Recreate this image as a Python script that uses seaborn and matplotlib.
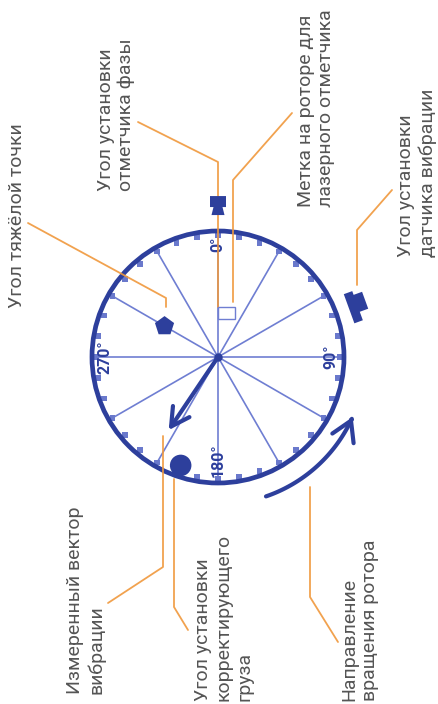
import numpy as np
import pandas as pd
import seaborn as sns
import matplotlib.pyplot as plt
from matplotlib.patches import Circle, Polygon, Rectangle, FancyArrowPatch
from matplotlib.path import Path

# angles are degrees clockwise from the top, radii in units of the disc radius
spoke_angles = [0, 30, 60, 90, 120, 150, 180, 210, 240, 270, 300, 330]
tick_angles = list(range(0, 360, 10))
deg_angles = [0, 90, 180, 270]
deg_labels = ["0°", "90°", "180°", "270°"]

heavy_angle, heavy_r = 300, 0.49
vector_angle, vector_r = 214, 0.70
weight_angle, weight_r = 199, 0.91
phase_angle, phase_r = 0, 1.19
vib_angle, vib_r = 70, 1.18
mark_r = 0.35
rot_start, rot_end, rot_r = 161, 114, 1.17

labels = [
    "Угол тяжёлой точки",
    "Угол установки\nотметчика фазы",
    "Метка на роторе для\nлазерного отметчика",
    "Угол установки\nдатчика вибрации",
    "Измеренный вектор\nвибрации",
    "Угол установки\nкорректирующего\nгруза",
    "Направление\nвращения ротора",
]

NAVY = "#2d3f9c"
SPOKE = "#6f7ed2"
TICK = "#6a79cc"
ORANGE = "#f0983c"
TEXT = "#555555"

CX, CY, R = 218, 357, 126


def polar(a, r):
    a = np.radians(a)
    return CX + r * R * np.sin(a), CY - r * R * np.cos(a)


def shape_at(a, r, pts):
    # pts given as (tangential, radial) pixel offsets
    bx, by = polar(a, r)
    t = np.radians(a)
    ux, uy = np.sin(t), -np.cos(t)
    vx, vy = np.cos(t), np.sin(t)
    return [(bx + v * vx + u * ux, by + v * vy + u * uy) for v, u in pts]


sns.set_style("white")
plt.rcParams["font.family"] = ["Roboto", "DejaVu Sans"]

fig = plt.figure(figsize=(4.38, 7.04), dpi=100)
ax = fig.add_axes([0, 0, 1, 1])
ax.set_xlim(0, 438)
ax.set_ylim(704, 0)
ax.axis("off")

# spokes
rows = []
for i, a in enumerate(spoke_angles):
    x0, y0 = polar(a, 0)
    x1, y1 = polar(a, 1)
    rows += [(i, x0, y0), (i, x1, y1)]
spokes = pd.DataFrame(rows, columns=["spoke", "x", "y"])
sns.lineplot(data=spokes, x="x", y="y", units="spoke", estimator=None, sort=False,
             color=SPOKE, lw=1.2, ax=ax, zorder=2)

# rim ticks
tx, ty = polar(np.array(tick_angles), 0.965)
sns.scatterplot(x=tx, y=ty, marker="s", s=16, color=TICK, edgecolor="none", ax=ax, zorder=3)

ax.add_patch(Circle((CX, CY), R, fill=False, ec=NAVY, lw=3.4, zorder=4))
ax.plot([CX], [CY], "o", ms=5, color=NAVY, zorder=5)

# degree labels
for a, lab in zip(deg_angles, deg_labels):
    x, y = polar(a, 0.955)
    ha = {0: "center", 90: "right", 180: "center", 270: "left"}[a]
    va = {0: "top", 90: "center", 180: "bottom", 270: "center"}[a]
    ax.text(x, y, lab, rotation=90, ha=ha, va=va, fontsize=11.5, fontweight="bold",
            color=NAVY, zorder=6)

# leaders
leaders = [
    [(28, 223), (166, 298), (166, 307)],
    [(138, 122), (218, 162), (218, 307)],
    [(292, 113), (233, 180), (233, 302)],
    [(392, 190), (357, 230), (357, 285)],
    [(163, 436), (163, 567), (108, 603)],
    [(174, 479), (174, 607), (188, 630)],
    [(310, 487), (310, 597), (338, 642)],
]
for seg in leaders:
    xs, ys = zip(*seg)
    ax.plot(xs, ys, color=ORANGE, lw=1.3, alpha=0.9, zorder=7)

# laser mark on rotor
mx, my = polar(0, mark_r)
ax.add_patch(Rectangle((mx, my - 6), 17, 12, fc="white", ec=SPOKE, lw=1.0, zorder=8))

# heavy point and correction weight
hx, hy = polar(heavy_angle, heavy_r)
sns.scatterplot(x=[hx], y=[hy], marker="p", s=210, color=NAVY, edgecolor="none", ax=ax, zorder=8)
wx, wy = polar(weight_angle, weight_r)
sns.scatterplot(x=[wx], y=[wy], marker="o", s=240, color=NAVY, edgecolor="none", ax=ax, zorder=8)

# measured vibration vector
ax.add_patch(FancyArrowPatch((CX, CY), polar(vector_angle, vector_r),
                             arrowstyle="->,head_length=1.0,head_width=0.55",
                             mutation_scale=13, color=NAVY, lw=3.0, zorder=9,
                             shrinkA=0, shrinkB=0))

# rotation direction
arc = np.linspace(rot_start, rot_end, 60)
ax_, ay_ = polar(arc, rot_r)
ax.add_patch(FancyArrowPatch(path=Path(np.column_stack([ax_, ay_])),
                             arrowstyle="->,head_length=1.0,head_width=0.6",
                             mutation_scale=14, color=NAVY, lw=3.0, zorder=9))

# phase marker sensor
phase_shape = [(-8, 11), (8, 11), (8, 0), (4.5, 0), (6.5, -8), (-6.5, -8), (-4.5, 0), (-8, 0)]
ax.add_patch(Polygon(shape_at(phase_angle, phase_r, phase_shape), closed=True,
                     fc=NAVY, ec="none", zorder=10))

# vibration sensor
vib_shape = [(-16, -9), (-16, 0), (-12, 0), (-12, 9), (6, 9), (6, 0), (15, 0), (15, -9)]
ax.add_patch(Polygon(shape_at(vib_angle, vib_r, vib_shape), closed=True,
                     fc=NAVY, ec="none", zorder=10))

# annotation texts
text_pos = [(17, 308), (116, 191), (316, 207), (417, 257), (86, 694), (224, 701), (360, 701)]
for (x, y), lab in zip(text_pos, labels):
    ax.text(x, y, lab, rotation=90, ha="center", va="bottom", multialignment="left",
            fontsize=14, color=TEXT, linespacing=1.2, zorder=11)

fig.savefig("out.png", dpi=100)
